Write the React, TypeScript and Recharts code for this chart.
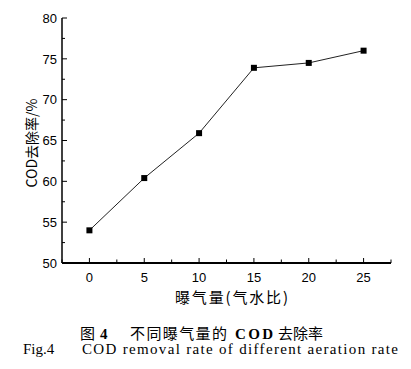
import React from 'react';
import { LineChart, Line, XAxis, YAxis, Label } from 'recharts';

// aeration rate (gas/water ratio) vs COD removal (%)
const AERATION = [0, 5, 10, 15, 20, 25];
const REMOVAL = [54.0, 60.4, 65.9, 73.9, 74.5, 76.0];

const X_TICKS = [-2.5, 0, 2.5, 5, 7.5, 10, 12.5, 15, 17.5, 20, 22.5, 25, 27.5];
const X_LABELS = [0, 5, 10, 15, 20, 25];
const Y_TICKS = [50, 52.5, 55, 57.5, 60, 62.5, 65, 67.5, 70, 72.5, 75, 77.5, 80];
const Y_LABELS = [50, 55, 60, 65, 70, 75, 80];

const data = AERATION.map((x, i) => ({ x, y: REMOVAL[i] }));

const TICK_FONT = '"Liberation Sans", Arial, sans-serif';
const CJK_FONT = '"Noto Sans CJK SC", "Noto Sans", sans-serif';
const SERIF = '"Liberation Serif", "Times New Roman", serif';

const XTick = (props: any) => {
  const { x, y, payload } = props;
  const major = X_LABELS.includes(payload.value);
  return (
    <g>
      <line x1={x} x2={x} y1={y} y2={y - (major ? 5 : 3.5)} stroke="#000" strokeWidth={1} />
      {major && (
        <text x={x} y={y + 19} textAnchor="middle" fontSize={13} fontFamily={TICK_FONT} fill="#000">
          {payload.value}
        </text>
      )}
    </g>
  );
};

const YTick = (props: any) => {
  const { x, y, payload } = props;
  const major = Y_LABELS.includes(payload.value);
  return (
    <g>
      <line x1={x} x2={x + (major ? 5 : 3)} y1={y} y2={y} stroke="#000" strokeWidth={1} />
      {major && (
        <text x={x - 5} y={y + 4.7} textAnchor="end" fontSize={13} fontFamily={TICK_FONT} fill="#000">
          {payload.value}
        </text>
      )}
    </g>
  );
};

const SquareDot = (props: any) => {
  const { cx, cy } = props;
  if (cx == null || cy == null) return null;
  return <rect x={cx - 3} y={cy - 3} width={6} height={6} fill="#000" />;
};

export default function App() {
  return (
    <div style={{ position: 'absolute', left: 0, top: 0, width: 411, height: 369, background: '#fff' }}>
      <LineChart width={411} height={369} data={data} margin={{ top: 18, right: 20, left: 0, bottom: 66 }}>
        <XAxis
          dataKey="x"
          type="number"
          domain={[-2.5, 27.5]}
          ticks={X_TICKS}
          interval={0}
          tick={<XTick />}
          tickLine={false}
          tickSize={0}
          tickMargin={0}
          height={40}
          axisLine={{ stroke: '#000', strokeWidth: 2 }}
        >
          <Label
            content={() => (
              <text x={175} y={303} fontSize={15} fontFamily={CJK_FONT} fill="#000" textLength={113} lengthAdjust="spacing">
                曝气量(气水比)
              </text>
            )}
          />
        </XAxis>
        <YAxis
          type="number"
          domain={[50, 80]}
          ticks={Y_TICKS}
          interval={0}
          tick={<YTick />}
          tickLine={false}
          tickSize={0}
          tickMargin={0}
          width={62}
          axisLine={{ stroke: '#000', strokeWidth: 1.5 }}
        >
          <Label
            content={() => (
              <text
                x={31}
                y={143}
                transform="rotate(-90 31 143)"
                textAnchor="middle"
                dominantBaseline="central"
                fontSize={14}
                fontFamily={CJK_FONT}
                fill="#000"
              >
                COD去除率/%
              </text>
            )}
          />
        </YAxis>
        <Line
          dataKey="y"
          stroke="#222"
          strokeWidth={1}
          dot={<SquareDot />}
          activeDot={false}
          isAnimationActive={false}
        />
      </LineChart>
      <svg width={411} height={369} style={{ position: 'absolute', left: 0, top: 0, pointerEvents: 'none' }}>
        <text y={339} fontSize={15} fill="#000">
          <tspan x={80} fontFamily={CJK_FONT}>图</tspan>
          <tspan x={100} fontFamily={SERIF} fontWeight="bold">4</tspan>
          <tspan x={130} fontFamily={CJK_FONT} textLength={97} lengthAdjust="spacing">不同曝气量的</tspan>
          <tspan x={235} fontFamily={SERIF} fontWeight="bold" textLength={38} lengthAdjust="spacing">COD</tspan>
          <tspan x={278} fontFamily={CJK_FONT} textLength={45} lengthAdjust="spacing">去除率</tspan>
        </text>
        <text y={354} fontSize={15} fill="#000" fontFamily={SERIF}>
          <tspan x={23}>Fig.4</tspan>
          <tspan x={82} textLength={316} lengthAdjust="spacing">COD removal rate of different aeration rate</tspan>
        </text>
      </svg>
    </div>
  );
}
